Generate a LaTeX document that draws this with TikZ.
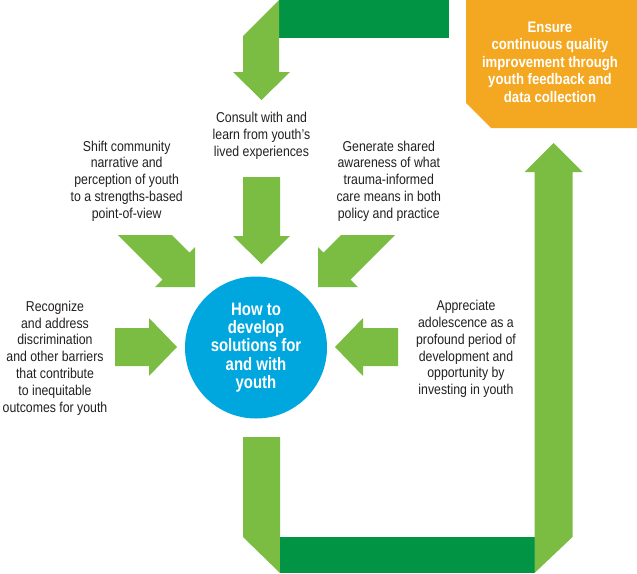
\documentclass[tikz,border=0pt]{standalone}
\usepackage{fontspec}
\setmainfont{Liberation Sans}[FakeStretch=0.86]
\newfontfamily\hubfont{Liberation Sans}[FakeStretch=0.83]
\definecolor{lgreen}{RGB}{122,189,66}
\definecolor{dgreen}{RGB}{0,148,68}
\definecolor{orng}{RGB}{244,168,33}
\definecolor{cblue}{RGB}{0,166,222}
\definecolor{txtc}{RGB}{35,31,32}
\tikzset{
  lg/.style={fill=lgreen, draw=none},
  dg/.style={fill=dgreen, draw=none},
  body/.style={align=center, inner sep=0pt, text=txtc, font=\fontsize{14.3}{16.8}\selectfont},
  hub/.style={circle, fill=cblue, draw=none, minimum size=142pt, inner sep=0pt, align=center, text=white, font=\hubfont\bfseries\fontsize{18}{18.3}\selectfont},
  goal/.style={align=center, inner sep=0pt, text=white, font=\bfseries\fontsize{15.3}{17.5}\selectfont}
}
\begin{document}
\begin{tikzpicture}[x=1pt,y=-1pt]
\useasboundingbox (0,0) rectangle (637,573);
% top loop
\fill[dg] (279,0) rectangle (449,38);
\fill[lg] (279,0) -- (243,36) -- (243,72) -- (233,72) -- (261.5,100) -- (290,72) -- (279,72) -- cycle;
% orange box
\fill[orng] (466,0) -- (637,0) -- (637,128) -- (491,128) -- (466,103) -- cycle;
\node[goal] (goal) at (550,62) {Ensure\\continuous quality\\improvement through\\youth feedback and\\data collection};
% bottom loop
\fill[lg] (243,437) -- (280,437) -- (280,573) -- (243,537) -- cycle;
\fill[dg] (280,537) rectangle (534.5,573);
\fill[lg] (534.5,573) -- (572.5,537) -- (572.5,172) -- (582.5,172) -- (553.5,143) -- (524.5,172) -- (534.5,172) -- cycle;
% hub
\node[hub] (hub) at (256,347.5) {How to\\develop\\solutions for\\and with\\youth};
% arrows into hub
\fill[lg] (243,177) -- (280,177) -- (280,236) -- (290,236) -- (261.5,264) -- (233,236) -- (243,236) -- cycle;
\fill[lg] (118,235) -- (172,235) -- (189.5,252.5) -- (195,247) -- (195,287) -- (155,287) -- (162.5,279.5) -- cycle;
\fill[lg] (395,235) -- (341,235) -- (323.5,252.5) -- (318,247) -- (318,287) -- (358,287) -- (350.5,279.5) -- cycle;
\fill[lg] (115,328) -- (149,328) -- (149,318) -- (177,347) -- (149,376) -- (149,366) -- (115,366) -- cycle;
\fill[lg] (398,328) -- (363,328) -- (363,318) -- (335,347) -- (363,376) -- (363,366) -- (398,366) -- cycle;
% texts
\node[body] (consult) at (261.5,136) {Consult with and\\learn from youth’s\\lived experiences};
\node[body] (shift) at (126.7,181) {Shift community\\narrative and\\perception of youth\\to a strengths-based\\point-of-view};
\node[body] (generate) at (388.8,181) {Generate shared\\awareness of what\\trauma-informed\\care means in both\\policy and practice};
\node[body] (recognize) at (55,358) {Recognize\\and address\\discrimination\\and other barriers\\that contribute\\to inequitable\\outcomes for youth};
\node[body] (appreciate) at (466,349) {Appreciate\\adolescence as a\\profound period of\\development and\\opportunity by\\investing in youth};
\end{tikzpicture}
\end{document}
